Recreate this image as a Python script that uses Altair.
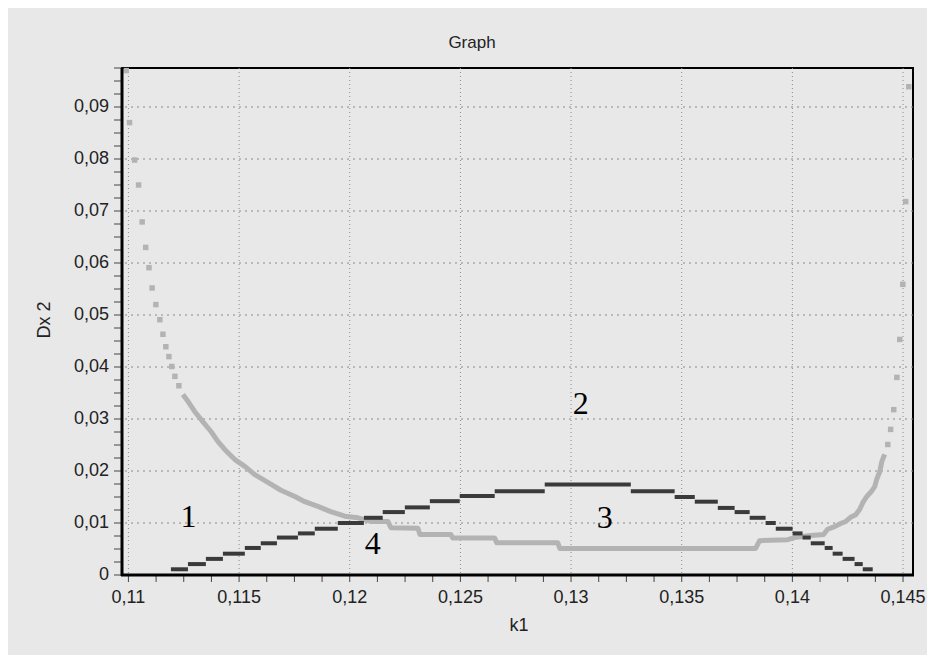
import altair as alt
import pandas as pd

# ---------------- data ----------------
k_domain = [0.10971, 0.14545]
dx_domain = [0.0, 0.0975]

x_major = [0.11, 0.115, 0.12, 0.125, 0.13, 0.135, 0.14, 0.145]
x_labels = ["0,11", "0,115", "0,12", "0,125", "0,13", "0,135", "0,14", "0,145"]
y_major = [0.0, 0.01, 0.02, 0.03, 0.04, 0.05, 0.06, 0.07, 0.08, 0.09]
y_labels = ["0", "0,01", "0,02", "0,03", "0,04", "0,05", "0,06", "0,07", "0,08", "0,09"]
x_ticks = [round(0.11 + i * 0.00125, 5) for i in range(29)]
y_ticks = [round(i * 0.0025, 4) for i in range(40)]

# curve 1/2 : dark stepped series (each step: start k, end k, level)
dark_start = [0.11192, 0.11269, 0.11350, 0.11427, 0.11526, 0.11598, 0.11671, 0.11766,
              0.11842, 0.11946, 0.12064, 0.12149, 0.12249, 0.12362, 0.12497, 0.12655,
              0.12881, 0.13270, 0.13468, 0.13559, 0.13663, 0.13739, 0.13807, 0.13879,
              0.13925, 0.14001, 0.14046, 0.14083, 0.14146, 0.14182, 0.14227, 0.14281,
              0.14318]
dark_end = [0.11269, 0.11350, 0.11427, 0.11526, 0.11598, 0.11671, 0.11766, 0.11842,
            0.11946, 0.12064, 0.12149, 0.12249, 0.12362, 0.12497, 0.12655, 0.12881,
            0.13270, 0.13468, 0.13559, 0.13663, 0.13739, 0.13807, 0.13879, 0.13925,
            0.14001, 0.14046, 0.14083, 0.14146, 0.14182, 0.14227, 0.14281, 0.14318,
            0.14363]
dark_level = [0.0011, 0.0021, 0.0031, 0.0041, 0.0052, 0.0061, 0.0072, 0.0080,
              0.0089, 0.0100, 0.0110, 0.0121, 0.0130, 0.0142, 0.0152, 0.0161,
              0.0174, 0.0161, 0.0150, 0.0141, 0.0129, 0.0121, 0.0110, 0.0100,
              0.0089, 0.0080, 0.0072, 0.0061, 0.0052, 0.0041, 0.0031, 0.0021,
              0.0011]

# curve 3/4 : light series, sparse points at both ends
gray_left_k = [0.10990, 0.11005, 0.11028, 0.11046, 0.11062, 0.11078, 0.11093, 0.11107,
               0.11124, 0.11142, 0.11156, 0.11169, 0.11183, 0.11196, 0.11210, 0.11228]
gray_left_dx = [0.0970, 0.0870, 0.0798, 0.0750, 0.0679, 0.0630, 0.0591, 0.0552,
                0.0520, 0.0491, 0.0463, 0.0439, 0.0420, 0.0401, 0.0382, 0.0364]
gray_right_k = [0.14431, 0.14444, 0.14458, 0.14472, 0.14485, 0.14499, 0.14512, 0.14526]
gray_right_dx = [0.0251, 0.0280, 0.0318, 0.0380, 0.0453, 0.0559, 0.0718, 0.0939]

# dense part of the light series
gray_k = [0.11246, 0.11269, 0.11300, 0.11336, 0.11373, 0.11404, 0.11436, 0.11481,
          0.11526, 0.11571, 0.11630, 0.11689, 0.11752, 0.11797, 0.11856, 0.11914,
          0.11978, 0.12037, 0.12095, 0.12172, 0.12186, 0.12308, 0.12317, 0.12457,
          0.12466, 0.12655, 0.12664, 0.12940, 0.12949, 0.13834, 0.13852, 0.13979,
          0.14010, 0.14082, 0.14141, 0.14159, 0.14191, 0.14218, 0.14241, 0.14263,
          0.14286, 0.14304, 0.14318, 0.14336, 0.14354, 0.14372, 0.14381, 0.14395,
          0.14404, 0.14417]
gray_dx = [0.0347, 0.0334, 0.0314, 0.0295, 0.0276, 0.0257, 0.0241, 0.0222,
           0.0209, 0.0193, 0.0178, 0.0163, 0.0151, 0.0141, 0.0132, 0.0122,
           0.0113, 0.0110, 0.0103, 0.0103, 0.0091, 0.0090, 0.0078, 0.0078,
           0.0071, 0.0071, 0.0062, 0.0062, 0.0051, 0.0051, 0.0066, 0.0068,
           0.0072, 0.0076, 0.0078, 0.0088, 0.0093, 0.0099, 0.0103, 0.0111,
           0.0116, 0.0126, 0.0139, 0.0151, 0.0159, 0.0170, 0.0184, 0.0199,
           0.0218, 0.0232]

# curve numbers
label_text = ["1", "2", "3", "4"]
label_k = [0.11271, 0.13044, 0.13152, 0.12104]
label_dx = [0.01125, 0.0328, 0.01087, 0.00587]

title_text = "Graph"
x_title = "k1"
y_title_text = "Dx 2"

# ---------------- styling ----------------
FONT = "Liberation Sans"
TXT = "#222222"
DARK = "#3a3a3a"
LIGHT = "#b3b3b3"
W, H = 791, 507

xs = alt.Scale(domain=k_domain, nice=False, zero=False)
ys = alt.Scale(domain=dx_domain, nice=False, zero=False)


def X(field="k"):
    return alt.X(f"{field}:Q", scale=xs, axis=None)


def Y(field="dx"):
    return alt.Y(f"{field}:Q", scale=ys, axis=None)


dark_df = pd.DataFrame({"k": dark_start, "k2": dark_end, "dx": dark_level})
gray_df = pd.DataFrame({"k": gray_k, "dx": gray_dx})
gray_pts_df = pd.DataFrame({"k": gray_left_k + gray_right_k,
                            "dx": gray_left_dx + gray_right_dx})
lab_df = pd.DataFrame({"t": label_text, "k": label_k, "dx": label_dx})
xg_df = pd.DataFrame({"k": x_major})
yg_df = pd.DataFrame({"dx": y_major[1:]})
ytick_df = pd.DataFrame({"dx": y_ticks})
xtick_df = pd.DataFrame({"k": x_ticks})
ylab_df = pd.DataFrame({"dx": y_major, "t": y_labels})
xlab_df = pd.DataFrame({"k": x_major, "t": x_labels})
one = pd.DataFrame({"t": [title_text], "xt": [x_title], "yt": [y_title_text]})

grid_x = alt.Chart(xg_df).mark_rule(color="#8a8a8a", strokeWidth=1, strokeDash=[1, 3]).encode(
    x=X())
grid_y = alt.Chart(yg_df).mark_rule(color="#8a8a8a", strokeWidth=1, strokeDash=[2, 4]).encode(
    y=Y())
gray_line = alt.Chart(gray_df).mark_line(color=LIGHT, strokeWidth=5, strokeJoin="round").encode(
    x=X(), y=Y(), order=alt.Order("k:Q"))
gray_pts = alt.Chart(gray_pts_df).mark_square(color=LIGHT, size=30, opacity=1).encode(
    x=X(), y=Y())
dark = alt.Chart(dark_df).mark_rule(color=DARK, strokeWidth=4, strokeCap="butt").encode(
    x=X(), x2="k2:Q", y=Y())
labels = alt.Chart(lab_df).mark_text(font="Liberation Serif", fontSize=32, color="black",
                                     align="center", baseline="middle").encode(
    x=X(), y=Y(), text="t:N")

# hand-built y axis
y_tick_marks = alt.Chart(ytick_df).mark_rule(color="#444444", strokeWidth=1).encode(
    y=Y(), x=alt.value(-8), x2=alt.value(0))
y_tick_labels = alt.Chart(ylab_df).mark_text(font=FONT, fontSize=18, color=TXT,
                                             align="right", baseline="middle").encode(
    y=Y(), x=alt.value(-13), text="t:N")
y_spine = alt.Chart(one).mark_rule(color="black", strokeWidth=3).encode(
    x=alt.value(0), y=alt.value(0), y2=alt.value(H + 1))
y_title = alt.Chart(one).mark_text(font=FONT, fontSize=18, color=TXT, angle=270,
                                   align="center", baseline="middle").encode(
    x=alt.value(-77), y=alt.value(252), text="yt:N")

# hand-built x axis
x_tick_marks = alt.Chart(xtick_df).mark_rule(color="#444444", strokeWidth=1).encode(
    x=X(), y=alt.value(H), y2=alt.value(H + 7))
x_tick_labels = alt.Chart(xlab_df).mark_text(font=FONT, fontSize=18, color=TXT,
                                             align="center", baseline="top").encode(
    x=X(), y=alt.value(H + 14), text="t:N")
x_spine = alt.Chart(one).mark_rule(color="black", strokeWidth=3).encode(
    y=alt.value(H), x=alt.value(-1), x2=alt.value(W + 1))
x_title_mark = alt.Chart(one).mark_text(font=FONT, fontSize=18, color=TXT,
                                        align="center", baseline="middle").encode(
    x=alt.value(397), y=alt.value(558), text="xt:N")

# chart title
title_mark = alt.Chart(one).mark_text(font=FONT, fontSize=17, color=TXT,
                                      align="center", baseline="middle").encode(
    x=alt.value(350), y=alt.value(-25), text="t:N")

chart = alt.layer(grid_x, grid_y, gray_line, gray_pts, dark, labels,
                  y_tick_marks, y_tick_labels, y_spine, y_title,
                  x_tick_marks, x_tick_labels, x_spine, x_title_mark,
                  title_mark).properties(
    width=W, height=H,
    autosize=alt.AutoSizeParams(type="none"),
    padding={"left": 114, "top": 60, "right": 14, "bottom": 80},
).configure(background="#e8e8e8").configure_view(stroke="black", strokeWidth=2)

chart.save("out.html", embed_options={"renderer": "svg", "actions": False})
